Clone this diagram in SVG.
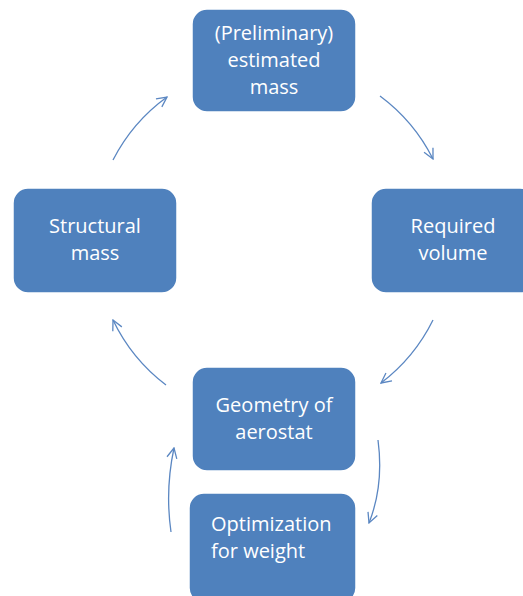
<svg xmlns="http://www.w3.org/2000/svg" width="523" height="596" viewBox="0 0 523 596">
<defs>
<style>
.box{fill:#4F81BD;stroke:#ffffff;stroke-width:1.5}
.t{font-family:"Open Sans","Liberation Sans",sans-serif;font-size:20px;fill:#ffffff;text-anchor:middle}
.tl{font-family:"Open Sans","Liberation Sans",sans-serif;font-size:20px;fill:#ffffff}
.c{fill:none;stroke:#5B87C2;stroke-width:1.3}
</style>
<marker id="ah" viewBox="0 0 12 12" refX="11" refY="6" markerWidth="12" markerHeight="12" markerUnits="userSpaceOnUse" orient="auto">
<path d="M1,1 L11,6 L1,11" fill="none" stroke="#5B87C2" stroke-width="1.3"/>
</marker>
</defs>
<rect width="523" height="596" fill="#ffffff"/>
<g id="connectors">
<path class="c" marker-end="url(#ah)" d="M113,160 A178,178 0 0 1 167,97"/>
<path class="c" marker-end="url(#ah)" d="M380,96 A178,178 0 0 1 433,159"/>
<path class="c" marker-end="url(#ah)" d="M433,320 A178,178 0 0 1 381,383"/>
<path class="c" marker-end="url(#ah)" d="M166,385 A178,178 0 0 1 113,320"/>
<path class="c" marker-end="url(#ah)" d="M378,440 Q384,485 369,523"/>
<path class="c" marker-end="url(#ah)" d="M171,532 Q165,490 174,448"/>
</g>
<g id="n-estimated-mass">
<rect class="box" x="192" y="9" width="164" height="103" rx="15"/>
<text class="t" x="274" y="40">(Preliminary)</text>
<text class="t" x="274" y="67">estimated</text>
<text class="t" x="274" y="94">mass</text>
</g>
<g id="n-required-volume">
<rect class="box" x="371" y="188" width="164" height="105" rx="15"/>
<text class="t" x="453" y="233">Required</text>
<text class="t" x="453" y="260">volume</text>
</g>
<g id="n-structural-mass">
<rect class="box" x="13" y="188" width="164" height="105" rx="15"/>
<text class="t" x="95" y="233">Structural</text>
<text class="t" x="95" y="260">mass</text>
</g>
<g id="n-geometry">
<rect class="box" x="192" y="367" width="164" height="104" rx="15"/>
<text class="t" x="274" y="412">Geometry of</text>
<text class="t" x="274" y="439">aerostat</text>
</g>
<g id="n-optimization">
<rect class="box" x="189" y="493" width="167" height="110" rx="15"/>
<text class="tl" x="211" y="531">Optimization</text>
<text class="tl" x="211" y="558">for weight</text>
</g>
</svg>
